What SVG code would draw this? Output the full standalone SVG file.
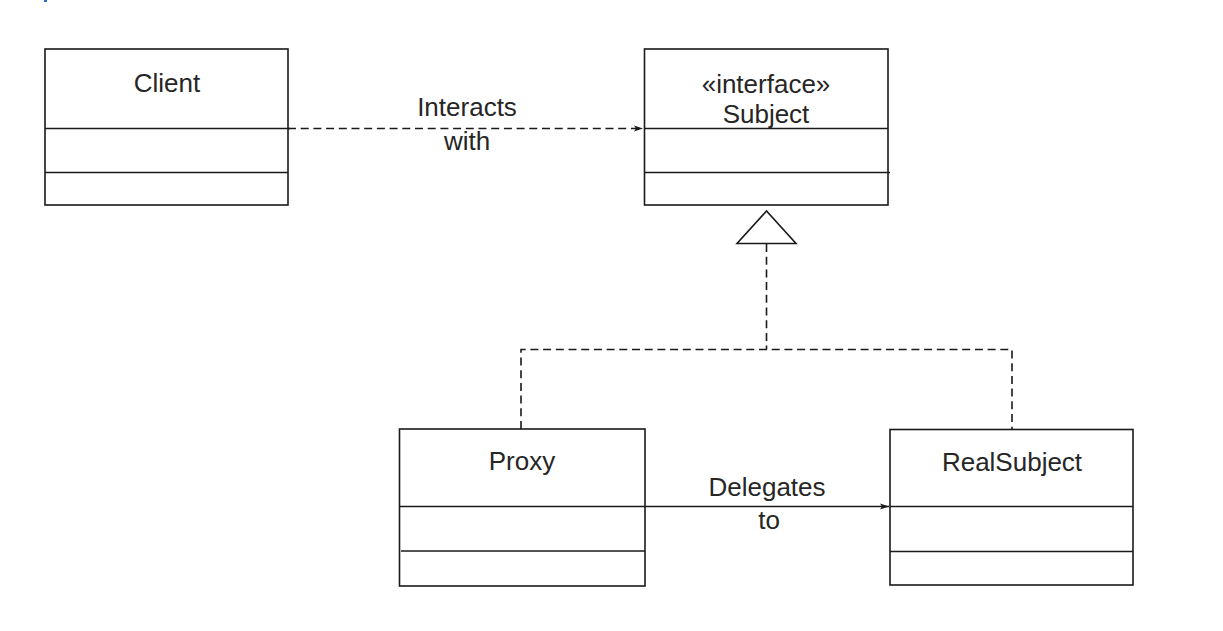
<svg xmlns="http://www.w3.org/2000/svg" width="1223" height="631" viewBox="0 0 1223 631">
<defs>
<style>
.box{fill:#fff;stroke:#1a1a1a;stroke-width:1.6}
.sep{stroke:#1a1a1a;stroke-width:1.6;fill:none}
.lbl{font-family:"Liberation Sans",Arial,sans-serif;font-size:26px;fill:#262626;text-anchor:middle}
.dash{stroke:#1a1a1a;stroke-width:1.6;fill:none;stroke-dasharray:8 4.7}
.solid{stroke:#1a1a1a;stroke-width:1.6;fill:none}
</style>
<marker id="arr" markerWidth="10" markerHeight="8" refX="9" refY="4" orient="auto" markerUnits="userSpaceOnUse">
<path d="M0,1 L9,4 L0,7 L2,4 Z" fill="#1a1a1a"/>
</marker>
</defs>
<rect x="0" y="0" width="1223" height="631" fill="#fff"/>
<rect x="44" y="0" width="3" height="2" fill="#2a6fd6"/>
<g id="connectors">
<line class="dash" x1="288" y1="128.5" x2="643" y2="128.5" marker-end="url(#arr)"/>
<text class="lbl" x="467" y="116">Interacts</text>
<text class="lbl" x="467" y="150">with</text>
<polyline class="dash" points="521,429 521,349.5 1012,349.5 1012,429"/>
<line class="dash" x1="766.5" y1="244" x2="766.5" y2="349.5"/>
<polygon points="766.5,211 737,243.5 796,243.5" fill="#fff" stroke="#1a1a1a" stroke-width="1.6"/>
<line class="solid" x1="645" y1="506.5" x2="889" y2="506.5" marker-end="url(#arr)"/>
<text class="lbl" x="767" y="496">Delegates</text>
<text class="lbl" x="769" y="529">to</text>
</g>
<g id="client">
<rect class="box" x="45" y="49" width="243" height="156"/>
<line class="sep" x1="45" y1="128.5" x2="290" y2="128.5"/>
<line class="sep" x1="45" y1="172.5" x2="288" y2="172.5"/>
<text class="lbl" x="167" y="92">Client</text>
</g>
<g id="subject">
<rect class="box" x="644.5" y="49" width="243.5" height="156"/>
<line class="sep" x1="644.5" y1="128.5" x2="888" y2="128.5"/>
<line class="sep" x1="644.5" y1="172.5" x2="890" y2="172.5"/>
<text class="lbl" x="766" y="93">«interface»</text>
<text class="lbl" x="766" y="123">Subject</text>
</g>
<g id="proxy">
<rect class="box" x="399.5" y="429" width="245.5" height="157"/>
<line class="sep" x1="399.5" y1="506.5" x2="645" y2="506.5"/>
<line class="sep" x1="401" y1="551" x2="645" y2="551"/>
<text class="lbl" x="522" y="470">Proxy</text>
</g>
<g id="realsubject">
<rect class="box" x="890" y="429.5" width="243" height="155.5"/>
<line class="sep" x1="890" y1="506.5" x2="1133" y2="506.5"/>
<line class="sep" x1="890" y1="551.5" x2="1133" y2="551.5"/>
<text class="lbl" x="1012" y="471">RealSubject</text>
</g>
</svg>
